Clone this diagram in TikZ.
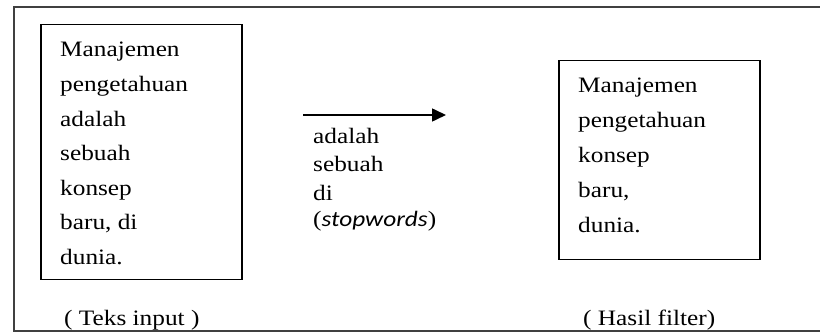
\documentclass[tikz,border=0pt]{standalone}
\usepackage{fontspec}
\setmainfont{Liberation Serif}[FakeStretch=1.15]
\newfontfamily\italsans{Carlito}[FakeStretch=1.15]
\usetikzlibrary{arrows.meta}
\newcommand{\bigtxt}{\fontsize{22pt}{26pt}\selectfont}
\begin{document}
\begin{tikzpicture}[x=1pt,y=-1pt,
  frame/.style={draw=black!75,line width=2pt},
  box/.style={draw=black,line width=1.5pt,inner sep=0pt,anchor=north west},
  txt/.style={anchor=base west,inner sep=0pt,font=\bigtxt},
  flow/.style={line width=1.6pt,-{Triangle[length=14pt,width=13pt]}}]
\useasboundingbox (0,0) rectangle (820,336);
% outer frame (open on the right)
\draw[frame] (821,7.5) -- (13.5,7.5) -- (13.5,331.5) -- (821,331.5);
% boxes
\node[box,minimum width=201pt,minimum height=255pt] (inbox) at (40,24) {};
\node[box,minimum width=201pt,minimum height=199pt] (outbox) at (558,60) {};
% input text
\foreach \t [count=\i] in {Manajemen,pengetahuan,adalah,sebuah,konsep,{baru, di},dunia.}
  \node[txt] (in\i) at (60,{57+34.6*(\i-1)}) {\t};
% output text
\foreach \t [count=\i] in {Manajemen,pengetahuan,konsep,{baru,},dunia.}
  \node[txt] (out\i) at (578,{93+35*(\i-1)}) {\t};
% stopwords
\node[txt] (sw1) at (313,143.3) {adalah};
\node[txt] (sw2) at (313,171.7) {sebuah};
\node[txt] (sw3) at (313,200.5) {di};
\node[txt] (sw4) at (313,227) {(\italsans\itshape stopwords\normalfont)};
% arrow
\coordinate (a1) at (303,115);
\coordinate (a2) at (446,115);
\draw[flow] (a1) -- (a2);
% captions
\node[txt] (cap1) at (64,326) {( Teks input )};
\node[txt] (cap2) at (583,326) {( Hasil filter)};
\end{tikzpicture}
\end{document}
